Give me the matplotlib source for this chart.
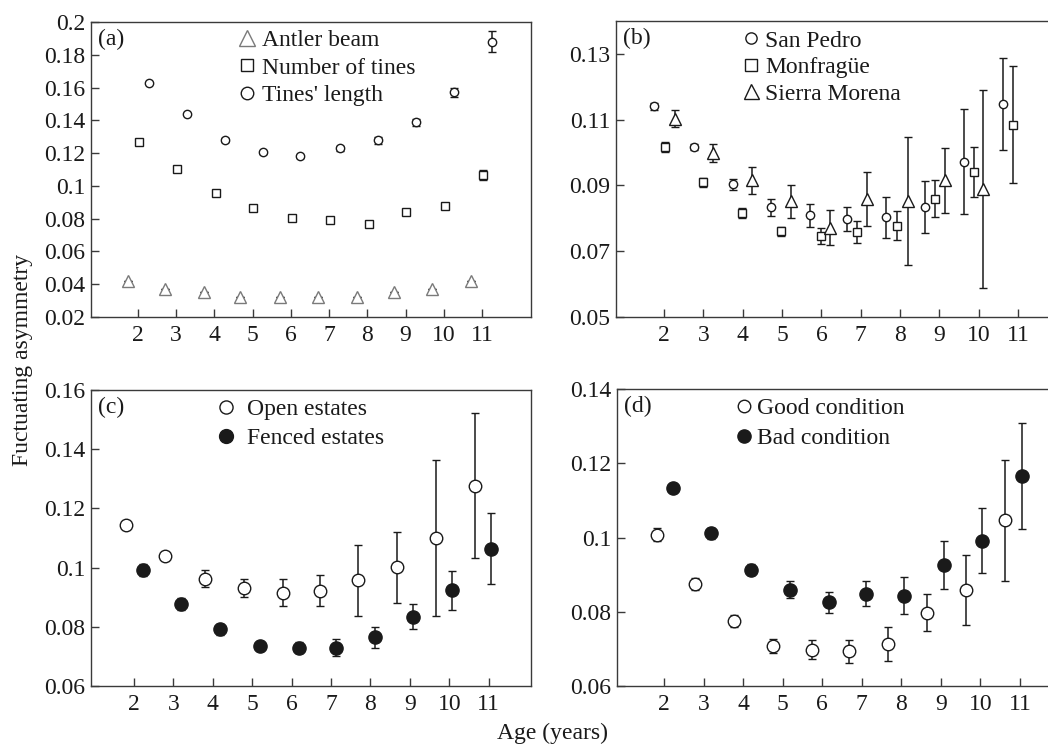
import matplotlib
matplotlib.use("Agg")
import matplotlib.pyplot as plt
from matplotlib.ticker import FuncFormatter

# (a) antler traits
beam_x = [1.74, 2.70, 3.72, 4.68, 5.71, 6.71, 7.73, 8.69, 9.70, 10.72]
beam_y = [0.042, 0.037, 0.035, 0.032, 0.032, 0.032, 0.032, 0.035, 0.037, 0.042]
beam_err = [0, 0, 0, 0, 0, 0, 0, 0, 0, 0]
tines_x = [2.02, 3.03, 4.03, 5.00, 6.03, 7.03, 8.04, 9.01, 10.02, 11.02]
tines_y = [0.1268, 0.1105, 0.0955, 0.0862, 0.0805, 0.0792, 0.0767, 0.0843, 0.0879, 0.1065]
tines_err = [0.001, 0.001, 0.001, 0.001, 0.001, 0.001, 0.001, 0.001, 0.001, 0.003]
length_x = [2.29, 3.29, 4.27, 5.27, 6.25, 7.29, 8.28, 9.28, 10.27, 11.27]
length_y = [0.163, 0.1437, 0.128, 0.1205, 0.118, 0.123, 0.1278, 0.1388, 0.157, 0.188]
length_err = [0.0005, 0.0005, 0.001, 0.001, 0.001, 0.0015, 0.002, 0.002, 0.003, 0.0065]

# (b) populations
sp_x = [1.75, 2.75, 3.75, 4.71, 5.70, 6.64, 7.64, 8.63, 9.62, 10.61]
sp_y = [0.114, 0.1017, 0.0904, 0.0833, 0.0809, 0.0797, 0.0803, 0.0833, 0.0972, 0.1148]
sp_err = [0.0012, 0.001, 0.0017, 0.0025, 0.0035, 0.0037, 0.0063, 0.0079, 0.016, 0.014]
mo_x = [2.02, 3.00, 3.98, 4.97, 5.98, 6.91, 7.92, 8.90, 9.88, 10.86]
mo_y = [0.1017, 0.0909, 0.0815, 0.0760, 0.0746, 0.0759, 0.0778, 0.0860, 0.0941, 0.1085]
mo_err = [0.0015, 0.0015, 0.0015, 0.0015, 0.0025, 0.0034, 0.0044, 0.0057, 0.0075, 0.0177]
sm_x = [2.28, 3.25, 4.23, 5.22, 6.23, 7.17, 8.19, 9.14, 10.10]
sm_y = [0.1103, 0.0998, 0.0915, 0.0852, 0.0771, 0.0858, 0.0852, 0.0915, 0.0889]
sm_err = [0.0026, 0.0028, 0.004, 0.005, 0.0053, 0.0082, 0.0195, 0.01, 0.03]

# (c) estate management
open_x = [1.81, 2.80, 3.79, 4.78, 5.77, 6.72, 7.69, 8.67, 9.67, 10.65]
open_y = [0.1145, 0.104, 0.0963, 0.093, 0.0915, 0.0922, 0.0958, 0.1002, 0.11, 0.1277]
open_err = [0.001, 0.001, 0.003, 0.003, 0.0045, 0.0052, 0.012, 0.012, 0.0264, 0.0245]
fenced_x = [2.23, 3.20, 4.19, 5.19, 6.19, 7.12, 8.12, 9.09, 10.08, 11.06]
fenced_y = [0.0992, 0.0876, 0.0791, 0.0736, 0.073, 0.073, 0.0764, 0.0834, 0.0923, 0.1063]
fenced_err = [0.002, 0.002, 0.002, 0.001, 0.002, 0.0028, 0.0035, 0.0042, 0.0067, 0.012]

# (d) body condition
good_x = [1.81, 2.79, 3.77, 4.76, 5.75, 6.69, 7.67, 8.66, 9.64, 10.61]
good_y = [0.1008, 0.0874, 0.0775, 0.0708, 0.0698, 0.0693, 0.0713, 0.0798, 0.0858, 0.1046]
good_err = [0.0018, 0.0016, 0.0015, 0.002, 0.0025, 0.003, 0.0046, 0.005, 0.0094, 0.0163]
bad_x = [2.23, 3.20, 4.19, 5.18, 6.16, 7.10, 8.06, 9.08, 10.05, 11.05]
bad_y = [0.1134, 0.1012, 0.0913, 0.0859, 0.0826, 0.0849, 0.0843, 0.0926, 0.0992, 0.1165]
bad_err = [0.0005, 0.0015, 0.0015, 0.0023, 0.0028, 0.0034, 0.005, 0.0064, 0.0087, 0.0143]

ages = [2, 3, 4, 5, 6, 7, 8, 9, 10, 11]

FS = 17
INK = "#1a1a1a"

plt.rcParams["font.family"] = ["Liberation Serif", "DejaVu Serif"]
plt.rcParams["font.size"] = FS
plt.rcParams["text.color"] = INK
plt.rcParams["axes.edgecolor"] = "#3a3a3a"
plt.rcParams["axes.linewidth"] = 1.0
plt.rcParams["xtick.color"] = "#3a3a3a"
plt.rcParams["ytick.color"] = "#3a3a3a"
plt.rcParams["xtick.labelcolor"] = INK
plt.rcParams["ytick.labelcolor"] = INK


def fmt(v, pos):
    return "%g" % round(v, 3)


def series(ax, x, y, err, marker, ms, mfc, mec=INK):
    eb = ax.errorbar(x, y, yerr=err, fmt=marker, ms=ms, mfc=mfc, mec=mec,
                     mew=1.0, ecolor=INK, elinewidth=1.1, capsize=3.2,
                     capthick=1.1)
    return eb[0]


def setup(ax, xlim, ylim, yticks, label, lx=0.016, ly=0.94):
    ax.set_xlim(*xlim)
    ax.set_ylim(*ylim)
    ax.set_xticks(ages)
    ax.set_yticks(yticks)
    ax.yaxis.set_major_formatter(FuncFormatter(fmt))
    ax.tick_params(direction="in", length=5.5, width=1.0, labelsize=FS)
    ax.tick_params(axis="x", pad=6)
    ax.tick_params(axis="y", pad=4)
    ax.text(lx, ly, label, transform=ax.transAxes, va="center", ha="left",
            fontsize=FS)


def legend(ax, handles, labels, bx, by, pad, spacing, scale):
    ax.legend(handles, labels, loc="upper left", bbox_to_anchor=(bx, by),
              frameon=False, borderaxespad=0, borderpad=0, handlelength=1.0,
              handletextpad=pad, labelspacing=spacing, fontsize=FS,
              numpoints=1, markerscale=scale)


def main():
    fig = plt.figure(figsize=(10.48, 7.46), dpi=100)
    ax_a = fig.add_axes([0.0868, 0.5751, 0.4198, 0.3954])
    ax_b = fig.add_axes([0.5878, 0.5751, 0.4141, 0.3968])
    ax_c = fig.add_axes([0.0868, 0.0804, 0.4198, 0.3968])
    ax_d = fig.add_axes([0.5887, 0.0804, 0.4132, 0.3981])

    h1 = series(ax_a, beam_x, beam_y, beam_err, "^", 8, "white", "#7a7a7a")
    h2 = series(ax_a, tines_x, tines_y, tines_err, "s", 6, "white")
    h3 = series(ax_a, length_x, length_y, length_err, "o", 6, "white")
    setup(ax_a, (0.77, 12.28), (0.02, 0.2),
          [0.02, 0.04, 0.06, 0.08, 0.1, 0.12, 0.14, 0.16, 0.18, 0.2], "(a)")
    legend(ax_a, [h1, h2, h3], ["Antler beam", "Number of tines", "Tines' length"],
           0.328, 0.973, 0.14, 0.24, 1.5)

    h1 = series(ax_b, sp_x, sp_y, sp_err, "o", 6, "white")
    h2 = series(ax_b, mo_x, mo_y, mo_err, "s", 6, "white")
    h3 = series(ax_b, sm_x, sm_y, sm_err, "^", 8, "white")
    setup(ax_b, (0.78, 11.81), (0.05, 0.14), [0.05, 0.07, 0.09, 0.11, 0.13], "(b)")
    legend(ax_b, [h1, h2, h3], ["San Pedro", "Monfragüe", "Sierra Morena"],
           0.284, 0.969, 0.09, 0.21, 1.35)

    h1 = series(ax_c, open_x, open_y, open_err, "o", 9, "white")
    h2 = series(ax_c, fenced_x, fenced_y, fenced_err, "o", 9.5, INK)
    setup(ax_c, (0.91, 12.07), (0.06, 0.16),
          [0.06, 0.08, 0.1, 0.12, 0.14, 0.16], "(c)")
    legend(ax_c, [h1, h2], ["Open estates", "Fenced estates"],
           0.28, 0.97, 0.39, 0.3, 1.05)

    h1 = series(ax_d, good_x, good_y, good_err, "o", 9, "white")
    h2 = series(ax_d, bad_x, bad_y, bad_err, "o", 9.5, INK)
    setup(ax_d, (0.81, 11.76), (0.06, 0.14), [0.06, 0.08, 0.1, 0.12, 0.14], "(d)")
    legend(ax_d, [h1, h2], ["Good condition", "Bad condition"],
           0.266, 0.97, 0.05, 0.34, 1.0)

    fig.text(0.021, 0.517, "Fuctuating asymmetry", rotation=90, ha="center",
             va="center", fontsize=FS)
    fig.text(0.527, 0.0174, "Age (years)", ha="center", va="center", fontsize=FS)

    fig.savefig("out.png", dpi=100)


if __name__ == "__main__":
    main()
